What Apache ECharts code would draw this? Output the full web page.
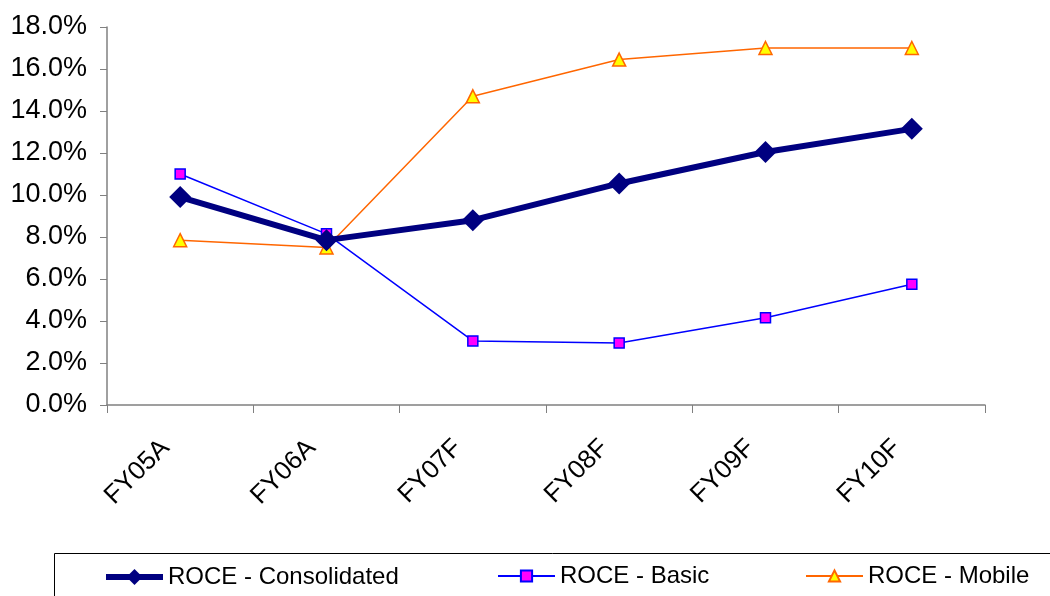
<!DOCTYPE html>
<html>
<head>
<meta charset="utf-8">
<script src="https://cdn.jsdelivr.net/npm/echarts@6/dist/echarts.min.js"></script>
<style>html,body{margin:0;padding:0;background:#fff}#c{width:1050px;height:596px}</style>
</head>
<body>
<div id="c"></div>
<script>
const categories = ['FY05A', 'FY06A', 'FY07F', 'FY08F', 'FY09F', 'FY10F'];
const consolidated = [9.9, 7.85, 8.8, 10.55, 12.05, 13.15];
const basic = [11.0, 8.15, 3.05, 2.95, 4.15, 5.75];
const mobile = [7.85, 7.5, 14.7, 16.45, 17.0, 17.0];
const seriesNames = ['ROCE - Consolidated', 'ROCE - Basic', 'ROCE - Mobile'];
const yTicks = [0, 2, 4, 6, 8, 10, 12, 14, 16, 18];

const FONT = 'Liberation Sans, Arial, sans-serif';
const chart = echarts.init(document.getElementById('c'), null, {renderer: 'canvas'});
const legendCommon = {
  orient: 'horizontal', padding: 0, itemWidth: 57, itemGap: 4,
  textStyle: {fontFamily: FONT, fontSize: 24, color: '#000'}
};
chart.setOption({
  animation: false,
  backgroundColor: '#fff',
  grid: {left: 107, right: 65, top: 27, bottom: 191, containLabel: false},
  xAxis: {
    type: 'category', data: categories, boundaryGap: true,
    axisLine: {lineStyle: {color: '#808080', width: 1.5}},
    axisTick: {show: true, length: 8, lineStyle: {color: '#808080', width: 1}},
    axisLabel: {rotate: 45, margin: 24, padding: [0, 21, 0, 0], fontFamily: FONT, fontSize: 26, color: '#000'},
    splitLine: {show: false}
  },
  yAxis: {
    type: 'value', min: yTicks[0], max: yTicks[yTicks.length - 1], interval: 2,
    axisLine: {show: true, lineStyle: {color: '#808080', width: 1.5}},
    axisTick: {show: true, length: 7, lineStyle: {color: '#808080'}},
    axisLabel: {margin: 20, fontFamily: FONT, fontSize: 27, color: '#000',
      formatter: v => v.toFixed(1) + '%'},
    splitLine: {show: false}
  },
  legend: [
    Object.assign({left: 103, top: 565, itemHeight: 20, data: [{name: seriesNames[0], lineStyle: {width: 6}}]}, legendCommon),
    Object.assign({left: 497, top: 564, itemHeight: 14, data: [{name: seriesNames[1], lineStyle: {width: 2}}]}, legendCommon),
    Object.assign({left: 805, top: 564, itemHeight: 14, data: [{name: seriesNames[2], lineStyle: {width: 2}}]}, legendCommon)
  ],
  graphic: [{
    type: 'rect', left: 52, top: 551, silent: true,
    shape: {width: 1100, height: 100},
    style: {fill: 'none', stroke: '#000', lineWidth: 1}
  }],
  series: [
    {
      name: seriesNames[1], type: 'line', data: basic, z: 2,
      symbol: 'rect', symbolSize: 10,
      lineStyle: {color: '#0000FF', width: 1.5},
      itemStyle: {color: '#FF00FF', borderColor: '#0000FF', borderWidth: 1.5}
    },
    {
      name: seriesNames[2], type: 'line', data: mobile, z: 3,
      symbol: 'triangle', symbolSize: 13,
      lineStyle: {color: '#FF6600', width: 1.5},
      itemStyle: {color: '#FFFF00', borderColor: '#FF6600', borderWidth: 1.5}
    },
    {
      name: seriesNames[0], type: 'line', data: consolidated, z: 4,
      symbol: 'diamond', symbolSize: 22,
      lineStyle: {color: '#000080', width: 6},
      itemStyle: {color: '#000080', borderColor: '#000080', borderWidth: 0}
    }
  ]
});
</script>
</body>
</html>
